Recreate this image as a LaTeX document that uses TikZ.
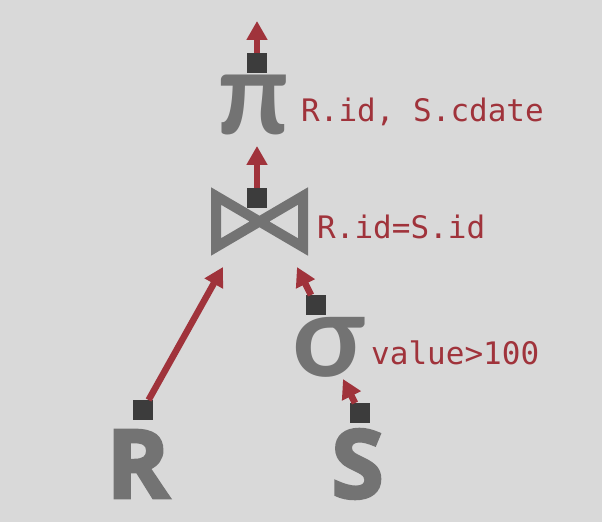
\documentclass[tikz,border=0pt]{standalone}
\usepackage{fontspec}
\usepackage{graphicx}
\usetikzlibrary{arrows.meta}
\newfontfamily\opfont{Lato}
\newfontfamily\relfont{Open Sans}[BoldFeatures={FakeBold=3}]
\newfontfamily\condfont{DejaVu Sans Mono}
\definecolor{bggray}{HTML}{D9D9D9}
\definecolor{opgray}{HTML}{737373}
\definecolor{portdark}{HTML}{3C3C3C}
\definecolor{flowred}{HTML}{A0333B}

\begin{document}
\begin{tikzpicture}[x=1pt, y=1pt,
    flow/.style={-{Triangle[length=19pt, width=20pt]}, line width=6.5pt, flowred},
    port/.style={fill=portdark, minimum size=20pt, inner sep=0pt, outer sep=0pt},
    op/.style={opgray, inner sep=0pt},
    cond/.style={flowred, anchor=base west, inner sep=0pt, font=\fontsize{31}{31}\selectfont\condfont}]

    % Background
    \useasboundingbox (0, 0) rectangle (602, 522);
    \fill[bggray] (0, 0) rectangle (602, 522);

    % Operators
    \node[op] (pi) at (253.5, 417) {\resizebox*{72pt}{60pt}{\opfont\bfseries π}};
    \node[op] (sigma) at (328.5, 175) {\resizebox*{72pt}{60pt}{\opfont\bfseries σ}};
    \draw[opgray, line width=10pt, miter limit=10]
        (216, 326) -- (303, 275) -- (303, 326) -- (216, 275) -- cycle;
    \coordinate (join) at (259.5, 300.5);

    % Relations
    \node[op, font=\fontsize{95}{95}\selectfont\relfont\bfseries] (R) at (138, 58) {R};
    \node[op, font=\fontsize{95}{95}\selectfont\relfont\bfseries] (S) at (357.5, 58) {S};

    % Conditions
    \node[cond] (picond) at (301, 400) {R.id, S.cdate};
    \node[cond] (joincond) at (317, 283) {R.id=S.id};
    \node[cond] (sigmacond) at (371, 157) {value>100};

    % Ports
    \node[port] (piport) at (257, 459) {};
    \node[port] (joinport) at (257, 324) {};
    \node[port] (sigmaport) at (316, 217) {};
    \node[port] (rport) at (143, 112) {};
    \node[port] (sport) at (360, 109) {};

    % Arrow tips
    \coordinate (piout) at (257, 501);
    \coordinate (joinout) at (257, 376);
    \coordinate (joinleft) at (223, 255);
    \coordinate (joinright) at (297, 255);
    \coordinate (sigmain) at (343, 143);

    % Data flow
    \draw[flow] (piport) -- (piout);
    \draw[flow] (joinport) -- (joinout);
    \draw[flow] (rport) -- (joinleft);
    \draw[flow] (sigmaport) -- (joinright);
    \draw[flow] (sport) -- (sigmain);

\end{tikzpicture}
\end{document}
